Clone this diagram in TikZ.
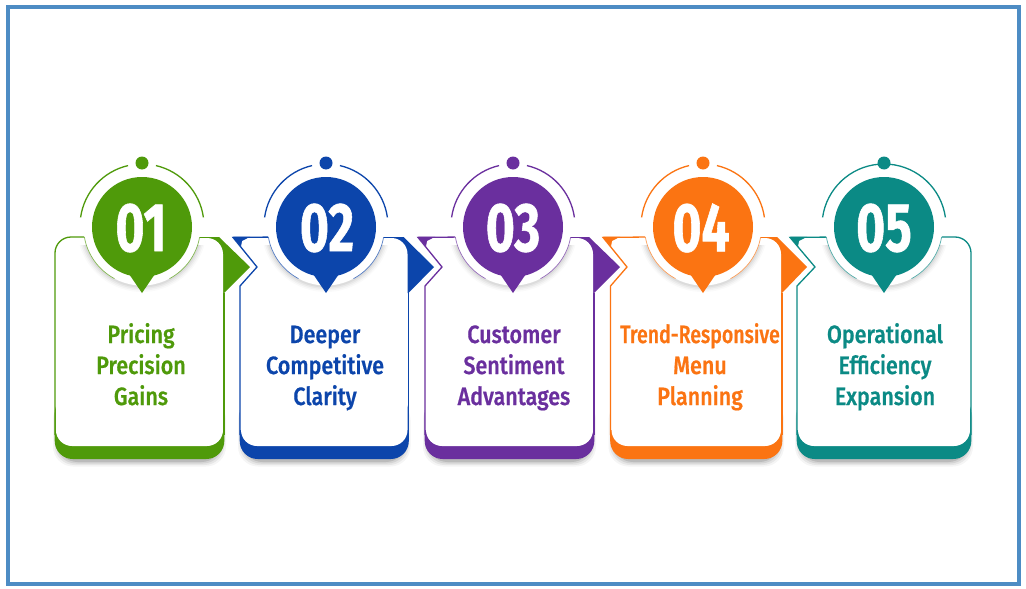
\documentclass[tikz,border=0pt]{standalone}
\usepackage{fontspec}
\setmainfont{Fira Sans}
\newfontfamily\lblfont[FakeStretch=0.86,FakeBold=0.7]{Fira Sans Medium}
\newfontfamily\lblnarrow[FakeStretch=0.78,FakeBold=0.7]{Fira Sans Medium}
\newfontfamily\numfont[FakeStretch=0.72,FakeBold=0.8]{Fira Sans Bold}
\definecolor{cgreen}{HTML}{4F9A0A}
\definecolor{cblue}{HTML}{0C45AB}
\definecolor{cpurple}{HTML}{6A2F9E}
\definecolor{corange}{HTML}{FB7412}
\definecolor{cteal}{HTML}{0B8A85}
\definecolor{cframe}{HTML}{4D8CC4}
\tikzset{
  lbl/.style={align=center,font=\lblfont\fontsize{25}{31}\selectfont,inner sep=0pt,text height=24pt,text depth=6pt},
  numlbl/.style={font=\numfont\fontsize{69}{69}\selectfont,text=white,inner sep=0pt},
  edge/.style={line width=1.3pt},
}
% #1 left, #2 right, #3 colour, #4 notch start x, #5 notch tip x (0 = none), #6 arrow tip x (0 = none)
\newcommand{\cardbody}[6]{%
  \foreach \s/\o in {6/0.04,4.5/0.06,3/0.08,1.5/0.11}{
    \fill[black,opacity=\o,rounded corners=20pt] (#1+4-\s,400) rectangle (#2-4+\s,459+1.5+\s);
  }
  \fill[#3,rounded corners=18pt] (#1-0.3,395) rectangle (#2+0.3,459);
  \ifdim #6pt=0pt\else
    \fill[#3] (#2-30,237) -- (#2-5,237) -- (#6,267) -- (#2,293) -- (#2-30,293) -- cycle;
  \fi
  \ifdim #5pt=0pt
    \fill[white,rounded corners=16pt] (#1+1,446) -- (#2-1,446) -- (#2-1,238) -- (#1,238) -- cycle;
    \draw[#3,edge,rounded corners=16pt] (#1,435) -- (#1,237) -- (#1+45,237);
  \else
    \fill[white] (#1,430) -- (#1,286) -- (#5,267) -- (#4,238) -- (#1+40,238) -- (#1+40,430) -- cycle;
    \fill[white,rounded corners=16pt] (#1+1,446) -- (#2-1,446) -- (#2-1,238) -- (#1+20,238) -- (#1+20,300) -- (#1+1,300) -- cycle;
    \draw[#3,edge,line join=miter] (#1,435) -- (#1,286) -- (#5,267) -- (#4,237.4) -- (#1+40,237);
    \fill[#3] (#4-0.5,236.8) -- (#4+17,236.8) -- (#4+9,241) -- (#4+8,246.5) -- cycle;
  \fi
  \ifdim #6pt=0pt
    \draw[#3,edge,rounded corners=16pt] (#2-40,237) -- (#2,237) -- (#2,435);
  \else
    \draw[#3,edge] (#2,293) -- (#2,435);
  \fi
}
% #1 centre x, #2 colour, #3 upper arc half-gap in degrees
\newcommand{\cardhead}[3]{%
  \foreach \r/\o in {65/0.02,63.5/0.03,62/0.04,60.5/0.05}{
    \begin{scope}
      \clip (#1-70,245) rectangle (#1+70,300);
      \fill[black,opacity=\o] (#1,227) circle[radius=\r pt];
    \end{scope}
  }
  \fill[white] (#1,227) circle[radius=58.5pt];
  \draw[#2!70,line width=0.7pt] (#1,227) ++(10:58.5) arc[start angle=10,end angle=62,radius=58.5];
  \draw[#2!70,line width=0.7pt] (#1,227) ++(170:58.5) arc[start angle=170,end angle=118,radius=58.5];
  \fill[#2] (#1,227) circle[radius=50pt];
  \fill[#2] (#1-15,271) -- (#1,293) -- (#1+15,271) -- cycle;
  \draw[#2,edge] (#1,226) ++(-8:62) arc[start angle=-8,end angle=-90+#3,radius=62];
  \draw[#2,edge] (#1,226) ++(-172:62) arc[start angle=-172,end angle=-90-#3,radius=62];
  \fill[#2] (#1,163) circle[radius=6.5pt];
}
\begin{document}
\begin{tikzpicture}[x=1pt,y=-1pt]
\useasboundingbox (0,0) rectangle (1026,589);
\fill[white] (0,0) rectangle (1026,589);
\draw[cframe,line width=4pt] (8,7) rectangle (1019,584);

\cardbody{55}{224}{cgreen}{0}{0}{250}
\cardhead{142}{cgreen}{13}
\node[numlbl] (n1) at (141,228) {01};
\node[lbl,text=cgreen] (t1) at (141,396) {Pricing\\Precision\\Gains};

\cardbody{240}{408.5}{cblue}{233}{257}{434}
\cardhead{326}{cblue}{13}
\node[numlbl] (n2) at (327,228) {02};
\node[lbl,text=cblue] (t2) at (325,396) {Deeper\\Competitive\\Clarity};

\cardbody{425}{594}{cpurple}{418}{442}{620}
\cardhead{513}{cpurple}{13}
\node[numlbl] (n3) at (513,228) {03};
\node[lbl,text=cpurple] (t3) at (514,396) {Customer\\Sentiment\\Advantages};

\cardbody{610.5}{782}{corange}{603}{627}{807}
\cardhead{703}{corange}{13}
\node[numlbl] (n4) at (701,228) {04};
\node[lbl,text=corange] (t4) at (700,396) {{\lblnarrow Trend-Responsive}\\Menu\\Planning};

\cardbody{797}{971}{cteal}{790}{815}{0}
\cardhead{884}{cteal}{5}
\node[numlbl] (n5) at (884,228) {05};
\node[lbl,text=cteal] (t5) at (885,396) {Operational\\Efficiency\\Expansion};
\end{tikzpicture}
\end{document}
